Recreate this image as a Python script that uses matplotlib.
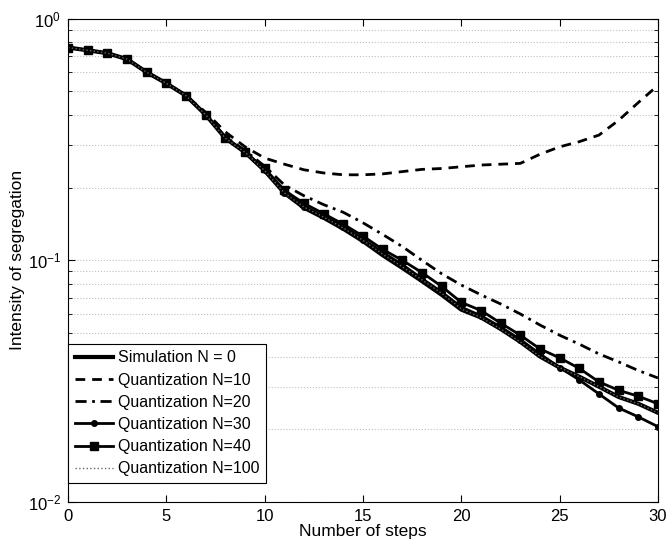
import numpy as np
import matplotlib
matplotlib.use('Agg')
import matplotlib.pyplot as plt
from matplotlib.ticker import LogLocator, NullFormatter

plt.rcParams['font.family'] = ['Liberation Sans', 'DejaVu Sans']
plt.rcParams['mathtext.fontset'] = 'custom'
plt.rcParams['mathtext.rm'] = 'Liberation Sans'
plt.rcParams['mathtext.default'] = 'regular'

# data
steps = np.arange(0, 31)
sim_n0 = [0.76, 0.74, 0.72, 0.68, 0.60, 0.54, 0.48, 0.40, 0.32, 0.28, 0.235,
          0.19, 0.165, 0.15, 0.135, 0.12, 0.105, 0.093, 0.082, 0.072, 0.0625,
          0.058, 0.052, 0.046, 0.040, 0.036, 0.033, 0.030, 0.0272, 0.0255, 0.0234]
quant_n10 = [0.76, 0.74, 0.72, 0.68, 0.60, 0.54, 0.48, 0.41, 0.34, 0.295, 0.265,
             0.25, 0.237, 0.23, 0.226, 0.226, 0.228, 0.233, 0.238, 0.24, 0.244,
             0.248, 0.25, 0.252, 0.275, 0.295, 0.31, 0.33, 0.38, 0.45, 0.53]
quant_n20 = [0.76, 0.74, 0.72, 0.68, 0.60, 0.54, 0.48, 0.40, 0.325, 0.285, 0.245,
             0.205, 0.185, 0.17, 0.158, 0.143, 0.128, 0.114, 0.1, 0.088, 0.079,
             0.072, 0.066, 0.06, 0.054, 0.049, 0.045, 0.041, 0.038, 0.035, 0.0326]
quant_n30 = [0.76, 0.74, 0.72, 0.68, 0.60, 0.54, 0.48, 0.40, 0.32, 0.28, 0.236,
             0.19, 0.167, 0.152, 0.138, 0.122, 0.108, 0.096, 0.084, 0.074, 0.064,
             0.059, 0.053, 0.047, 0.041, 0.036, 0.032, 0.028, 0.0245, 0.0225, 0.0205]
quant_n40 = [0.76, 0.74, 0.72, 0.68, 0.60, 0.54, 0.48, 0.40, 0.32, 0.28, 0.24,
             0.195, 0.172, 0.156, 0.141, 0.126, 0.111, 0.1, 0.089, 0.078, 0.067,
             0.062, 0.055, 0.049, 0.043, 0.0395, 0.0357, 0.0314, 0.029, 0.0274, 0.0255]
quant_n100 = [0.76, 0.74, 0.72, 0.68, 0.60, 0.54, 0.48, 0.40, 0.32, 0.28, 0.235,
              0.19, 0.166, 0.151, 0.136, 0.121, 0.106, 0.094, 0.083, 0.073, 0.063,
              0.058, 0.052, 0.046, 0.040, 0.036, 0.033, 0.030, 0.0272, 0.0255, 0.0234]

labels = ['Simulation N = 0', 'Quantization N=10', 'Quantization N=20',
          'Quantization N=30', 'Quantization N=40', 'Quantization N=100']

fig = plt.figure(figsize=(6.68, 5.43), dpi=100)
ax = fig.add_axes([0.102, 0.0755, 0.883, 0.89])

ax.plot(steps, sim_n0, color='black', lw=3.0, label=labels[0])
ax.plot(steps, quant_n10, color='black', lw=2.0, ls=(0, (3.5, 2.5)), label=labels[1])
ax.plot(steps, quant_n20, color='black', lw=2.0, ls=(0, (4, 2, 1, 2)), label=labels[2])
ax.plot(steps, quant_n30, color='black', lw=2.0, marker='o', ms=4, label=labels[3])
ax.plot(steps, quant_n40, color='black', lw=2.0, marker='s', ms=6, label=labels[4])
ax.plot(steps, quant_n100, color='#666666', lw=1.0, ls=':', label=labels[5])

ax.set_yscale('log')
ax.set_xlim(0, 30)
ax.set_ylim(1e-2, 1e0)
ax.set_xticks(np.arange(0, 31, 5))
ax.yaxis.set_major_locator(LogLocator(base=10))
ax.yaxis.set_minor_locator(LogLocator(base=10, subs=np.arange(2, 10)))
ax.yaxis.set_minor_formatter(NullFormatter())
ax.tick_params(which='both', direction='in', top=True, right=True, labelsize=12)
ax.tick_params(which='major', length=5, pad=5)
ax.tick_params(which='minor', length=3)

ax.grid(True, axis='y', which='both', color='#c0c0c0', ls=':', lw=0.8)

ax.set_xlabel('Number of steps', fontsize=12.5, labelpad=0)
ax.set_ylabel('Intensity of segregation', fontsize=12.5, labelpad=2)

leg = ax.legend(loc='lower left', bbox_to_anchor=(0, 0.04), fontsize=11.5,
                handlelength=2.4, handletextpad=0.3, labelspacing=0.45,
                borderaxespad=0, fancybox=False, framealpha=1, borderpad=0.4)
leg.get_frame().set_edgecolor('black')
leg.get_frame().set_linewidth(0.8)

fig.savefig('out.png', dpi=100)
